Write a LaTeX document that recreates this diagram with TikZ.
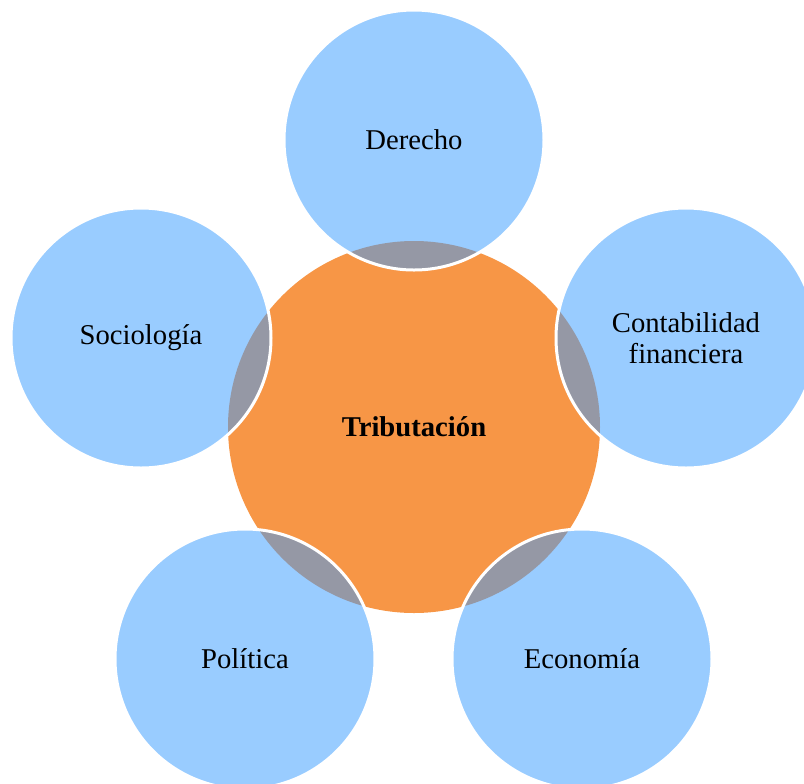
\documentclass[tikz,border=0pt]{standalone}
\usepackage{fontspec}
\setmainfont{Liberation Serif}
\definecolor{orangeC}{HTML}{F79646}
\definecolor{blueC}{HTML}{99CCFF}
\definecolor{grayC}{HTML}{9598A5}
\begin{document}
\begin{tikzpicture}[x=0.75pt,y=-0.75pt,
  lbl/.style={font=\fontsize{21.5}{23}\selectfont, align=center, text=black, inner sep=0pt},
  rim/.style={draw=white, line width=2.25pt}]
\useasboundingbox (0,0) rectangle (804,783);
\clip (0,0) rectangle (804,783);
\coordinate (cT) at (414,427);
\coordinate (cD) at (414,140);
\coordinate (cC) at (686,338);
\coordinate (cE) at (582,659);
\coordinate (cP) at (245,659);
\coordinate (cS) at (141,338);
\fill[orangeC] (cT) circle[radius=139.5pt];
\foreach \c in {cD,cC,cE,cP,cS}{
  \fill[blueC] (\c) circle[radius=97.5pt];
  \begin{scope}
    \clip (cT) circle[radius=139.5pt];
    \fill[grayC] (\c) circle[radius=97.5pt];
  \end{scope}
  \draw[rim] (\c) circle[radius=97.5pt];
}
\node[lbl] (t) at (cT) {\textbf{Tributación}};
\node[lbl] (d) at (cD) {Derecho};
\node[lbl] (c) at (cC) {Contabilidad\\financiera};
\node[lbl] (e) at (cE) {Economía};
\node[lbl] (p) at (cP) {Política};
\node[lbl] (s) at (cS) {Sociología};
\end{tikzpicture}
\end{document}
